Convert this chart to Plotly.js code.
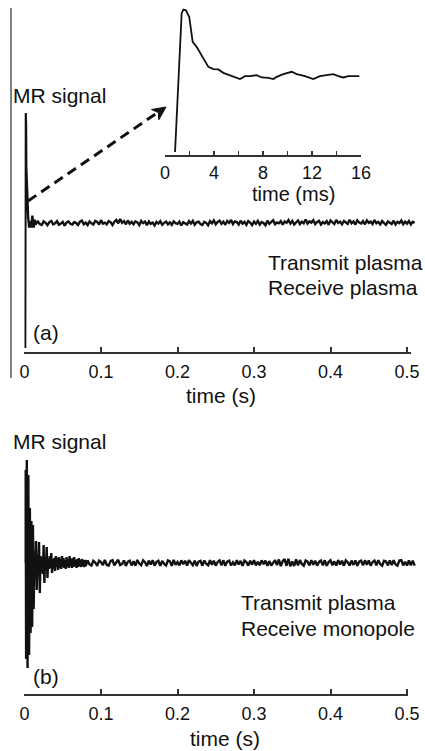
<!DOCTYPE html>
<html>
<head>
<meta charset="utf-8">
<script src="https://cdn.plot.ly/plotly-3.0.1.min.js"></script>
<style>
  html, body { margin: 0; padding: 0; background: #ffffff; }
  #chart { width: 425px; height: 751px; }
</style>
</head>
<body>
<div id="chart"></div>
<script>
// ---------------- DATA ----------------
// Inset of panel (a): first 16 ms of the MR signal (time in ms, signal in arb. units)
const insetTime = [0.82, 1.36, 1.5, 1.71, 1.98, 2.26, 2.58, 2.99, 3.54, 3.95, 4.35, 4.76, 5.31, 5.71, 6.12,
  6.53, 6.94, 7.48, 7.89, 8.44, 8.84, 9.12, 9.66, 10.34, 10.75, 11.43, 12.1, 12.65, 13.2, 13.74, 14.15,
  14.56, 14.97, 15.37, 15.86];
const insetSignal = [0.021, 0.973, 0.998, 0.993, 0.947, 0.776, 0.742, 0.685, 0.605, 0.589, 0.587, 0.564,
  0.548, 0.532, 0.521, 0.541, 0.541, 0.548, 0.532, 0.529, 0.521, 0.536, 0.555, 0.571, 0.555, 0.541,
  0.521, 0.541, 0.546, 0.555, 0.541, 0.532, 0.541, 0.541, 0.541];

// Panel (a): signal after the first 16 ms, sampled every 2.5 ms from 17.5 ms
const aLateStart = 0.0175, aLateStep = 0.0025;
const aLateSignal = [
  0.546,0.536,0.532,0.547,0.541,0.531,0.544,0.549,0.535,0.539,
  0.548,0.533,0.538,0.545,0.529,0.543,0.547,0.537,0.534,0.544,
  0.540,0.532,0.546,0.550,0.535,0.542,0.532,0.547,0.539,0.534,
  0.549,0.545,0.534,0.552,0.538,0.542,0.535,0.548,0.544,0.532,
  0.546,0.553,0.539,0.557,0.541,0.548,0.535,0.551,0.537,0.545,
  0.535,0.547,0.543,0.532,0.549,0.540,0.546,0.531,0.547,0.537,
  0.542,0.530,0.545,0.538,0.548,0.533,0.541,0.546,0.535,0.543,
  0.533,0.547,0.540,0.537,0.546,0.530,0.544,0.540,0.534,0.548,
  0.538,0.549,0.533,0.543,0.546,0.536,0.532,0.545,0.541,0.531,
  0.548,0.539,0.551,0.535,0.545,0.550,0.537,0.546,0.533,0.549,
  0.541,0.553,0.536,0.547,0.544,0.534,0.550,0.538,0.545,0.533,
  0.548,0.542,0.532,0.546,0.537,0.549,0.534,0.544,0.540,0.531,
  0.550,0.537,0.545,0.552,0.535,0.543,0.539,0.548,0.533,0.547,
  0.541,0.553,0.538,0.549,0.534,0.545,0.551,0.536,0.546,0.539,
  0.555,0.538,0.547,0.542,0.552,0.536,0.545,0.549,0.534,0.544,
  0.539,0.548,0.533,0.551,0.543,0.536,0.553,0.540,0.546,0.535,
  0.549,0.544,0.537,0.554,0.539,0.547,0.534,0.551,0.542,0.538,
  0.548,0.535,0.551,0.541,0.546,0.536,0.553,0.539,0.545,0.535,
  0.549,0.540,0.533,0.547,0.543,0.536,0.550,0.534,0.545,0.540,
  0.551,0.535,0.546,0.538,0.549,0.534,0.545,0.541];

// Panel (b): first 80 ms sampled every 1 ms
const bEarlyStart = 0, bEarlyStep = 0.001;
const bEarlySignal = [
  0.00, 0.93,-0.96, 1.03,-1.05, 0.88,-0.92, 0.55,-0.70, 0.42,
 -0.64, 0.38,-0.46, 0.12,-0.15, 0.22,-0.27, 0.08,-0.10, 0.21,
 -0.30, 0.07,-0.09, 0.06,-0.11, 0.18,-0.20, 0.06,-0.07, 0.16,
 -0.15, 0.05,-0.06, 0.07,-0.05, 0.10,-0.10, 0.04,-0.06, 0.05,
 -0.08, 0.07,-0.04, 0.05,-0.07, 0.06,-0.05, 0.04,-0.06, 0.07,
 -0.04, 0.05,-0.05, 0.03,-0.06, 0.06,-0.04, 0.04,-0.05, 0.07,
 -0.03, 0.04,-0.05, 0.05,-0.04, 0.06,-0.03, 0.03,-0.05, 0.04,
 -0.04, 0.05,-0.03, 0.03,-0.04, 0.04,-0.03, 0.03,-0.04, 0.03,
 -0.03];
// Panel (b): remainder sampled every 2.5 ms from 82.5 ms
const bLateStart = 0.0825, bLateStep = 0.0025;
const bLateSignal = [
  0.026,-0.014,-0.025,0.022,0.005,-0.028,0.024,0.010,-0.021,0.030,
  -0.018,-0.026,0.019,0.029,-0.023,0.007,0.032,-0.020,-0.010,0.025,
  -0.029,0.012,0.023,-0.024,0.018,-0.027,0.030,-0.006,-0.022,0.026,
  0.008,-0.030,0.024,-0.015,0.028,-0.026,0.011,0.022,-0.028,0.020,
  -0.010,-0.025,0.026,0.016,-0.029,0.031,-0.019,0.009,-0.024,0.027,
  -0.013,0.023,-0.026,0.028,0.006,-0.022,0.024,-0.029,0.014,0.021,
  -0.027,0.025,-0.008,-0.023,0.029,-0.017,0.022,-0.026,0.010,0.026,
  -0.022,0.027,-0.028,0.014,0.024,-0.025,0.007,-0.023,0.028,-0.014,
  0.021,-0.029,0.025,0.010,-0.026,0.023,-0.016,0.029,-0.024,0.012,
  -0.022,0.026,-0.011,0.024,-0.028,0.019,-0.025,0.008,0.027,-0.021,
  0.035,-0.031,0.018,0.039,-0.028,0.041,-0.033,0.015,-0.030,0.036,
  -0.023,0.029,-0.010,-0.027,0.025,0.014,-0.024,0.028,-0.018,0.022,
  -0.026,0.011,0.024,-0.022,0.027,-0.028,0.009,0.026,-0.023,0.016,
  -0.025,0.029,-0.014,0.022,-0.027,0.026,0.007,-0.025,0.024,-0.019,
  0.026,-0.028,0.013,0.023,-0.024,0.027,-0.017,0.025,-0.026,0.010,
  0.024,-0.023,0.028,-0.010,-0.027,0.022,0.015,-0.024,0.026,-0.020,
  0.027,-0.014,-0.026,0.025,0.029,-0.024,0.012,-0.025,0.026,-0.022,
  0.024,-0.026];

// Tick labels
const mainTickVals = [0, 0.1, 0.2, 0.3, 0.4, 0.5];
const mainTickText = ['0', '0.1', '0.2', '0.3', '0.4', '0.5'];
const insetTickVals = [0, 2, 4, 6, 8, 10, 12, 14, 16];
const insetTickText = ['0', '', '4', '', '8', '', '12', '', '16'];

// ---------------- BUILD ----------------
const W = 425, H = 751;
const px = x => x / W;
const py = y => 1 - y / H;
const FONT = 'Liberation Sans, Arial, Helvetica, sans-serif';
const INK = '#111111';

const aX = insetTime.map(t => t / 1000).concat(aLateSignal.map((v, i) => aLateStart + i * aLateStep));
const aY = insetSignal.concat(aLateSignal);
const bX = bEarlySignal.map((v, i) => bEarlyStart + i * bEarlyStep)
  .concat(bLateSignal.map((v, i) => bLateStart + i * bLateStep));
const bY = bEarlySignal.concat(bLateSignal);

const traces = [
  { x: aX, y: aY, xaxis: 'x', yaxis: 'y', type: 'scatter', mode: 'lines',
    line: { color: INK, width: 2.4 }, hoverinfo: 'skip' },
  { x: insetTime, y: insetSignal, xaxis: 'x2', yaxis: 'y2', type: 'scatter', mode: 'lines',
    line: { color: INK, width: 1.8 }, hoverinfo: 'skip' },
  { x: bX, y: bY, xaxis: 'x3', yaxis: 'y3', type: 'scatter', mode: 'lines',
    line: { color: INK, width: 2.4 }, hoverinfo: 'skip' }
];

const mainX = {
  range: [0, 0.5124], showgrid: false, zeroline: false, showline: false,
  ticks: 'inside', ticklen: 6, tickwidth: 2, tickcolor: '#333',
  tickvals: mainTickVals, ticktext: mainTickText, ticklabelstandoff: 6,
  tickfont: { family: FONT, size: 18, color: INK }, fixedrange: true
};

const layout = {
  width: W, height: H,
  margin: { l: 0, r: 0, t: 0, b: 0 },
  paper_bgcolor: '#ffffff', plot_bgcolor: 'rgba(0,0,0,0)',
  showlegend: false,
  font: { family: FONT, color: INK },
  xaxis: Object.assign({}, mainX, { domain: [px(24.5), px(416.5)], anchor: 'y' }),
  yaxis: { domain: [py(353), py(98)], range: [0, 1.06], visible: false, fixedrange: true },
  xaxis2: {
    domain: [px(165), px(361)], range: [0, 16], anchor: 'y2',
    showgrid: false, zeroline: false, showline: true, linecolor: '#333', linewidth: 2,
    ticks: 'inside', ticklen: 4, tickwidth: 1.5, tickcolor: '#333',
    tickvals: insetTickVals, ticktext: insetTickText,
    tickfont: { family: FONT, size: 18, color: INK }, fixedrange: true
  },
  yaxis2: { domain: [py(155), py(2)], range: [0, 1.05], visible: false, fixedrange: true },
  xaxis3: Object.assign({}, mainX, { domain: [px(24.5), px(416.5)], anchor: 'y3' }),
  yaxis3: { domain: [py(695), py(448)], range: [-1.32, 1.15], visible: false, fixedrange: true },
  shapes: [
    { type: 'line', xref: 'paper', yref: 'paper', x0: px(11), x1: px(11), y0: py(8), y1: py(378),
      line: { color: '#808080', width: 2 } },
    { type: 'line', xref: 'paper', yref: 'paper', x0: px(24), x1: px(411), y0: py(353), y1: py(353),
      line: { color: '#333', width: 2 } },
    { type: 'line', xref: 'paper', yref: 'paper', x0: px(24), x1: px(408), y0: py(695), y1: py(695),
      line: { color: '#333', width: 2 } },
    { type: 'line', xref: 'paper', yref: 'paper', x0: px(28), y0: py(201), x1: px(157), y1: py(113),
      line: { color: INK, width: 3, dash: '10px,6px' } },
    { type: 'path', xref: 'paper', yref: 'paper',
      path: 'M ' + px(166) + ' ' + py(107) + ' L ' + px(151.5) + ' ' + py(109.5) +
            ' L ' + px(158.3) + ' ' + py(112.5) + ' L ' + px(158.8) + ' ' + py(119.8) + ' Z',
      fillcolor: INK, line: { color: INK, width: 1 } }
  ],
  annotations: [
    { text: 'MR signal', xref: 'paper', yref: 'paper', x: px(11), y: py(96), xanchor: 'left', yanchor: 'middle',
      showarrow: false, font: { size: 21, family: FONT, color: INK } },
    { text: 'Transmit plasma', xref: 'paper', yref: 'paper', x: px(266), y: py(262), xanchor: 'left', yanchor: 'middle',
      showarrow: false, font: { size: 21, family: FONT, color: INK } },
    { text: 'Receive plasma', xref: 'paper', yref: 'paper', x: px(266), y: py(288), xanchor: 'left', yanchor: 'middle',
      showarrow: false, font: { size: 21, family: FONT, color: INK } },
    { text: '(a)', xref: 'paper', yref: 'paper', x: px(31), y: py(332), xanchor: 'left', yanchor: 'middle',
      showarrow: false, font: { size: 21, family: FONT, color: INK } },
    { text: 'time (s)', xref: 'paper', yref: 'paper', x: px(221), y: py(395), xanchor: 'center', yanchor: 'middle',
      showarrow: false, font: { size: 21, family: FONT, color: INK } },
    { text: 'time (ms)', xref: 'paper', yref: 'paper', x: px(293), y: py(194), xanchor: 'center', yanchor: 'middle',
      showarrow: false, font: { size: 20, family: FONT, color: INK } },
    { text: 'MR signal', xref: 'paper', yref: 'paper', x: px(11), y: py(441), xanchor: 'left', yanchor: 'middle',
      showarrow: false, font: { size: 21, family: FONT, color: INK } },
    { text: 'Transmit plasma', xref: 'paper', yref: 'paper', x: px(239), y: py(602), xanchor: 'left', yanchor: 'middle',
      showarrow: false, font: { size: 21, family: FONT, color: INK } },
    { text: 'Receive monopole', xref: 'paper', yref: 'paper', x: px(239), y: py(628), xanchor: 'left', yanchor: 'middle',
      showarrow: false, font: { size: 21, family: FONT, color: INK } },
    { text: '(b)', xref: 'paper', yref: 'paper', x: px(31), y: py(676), xanchor: 'left', yanchor: 'middle',
      showarrow: false, font: { size: 21, family: FONT, color: INK } },
    { text: 'time (s)', xref: 'paper', yref: 'paper', x: px(225), y: py(738), xanchor: 'center', yanchor: 'middle',
      showarrow: false, font: { size: 21, family: FONT, color: INK } }
  ]
};

Plotly.newPlot('chart', traces, layout, { staticPlot: true, displayModeBar: false });
</script>
</body>
</html>
